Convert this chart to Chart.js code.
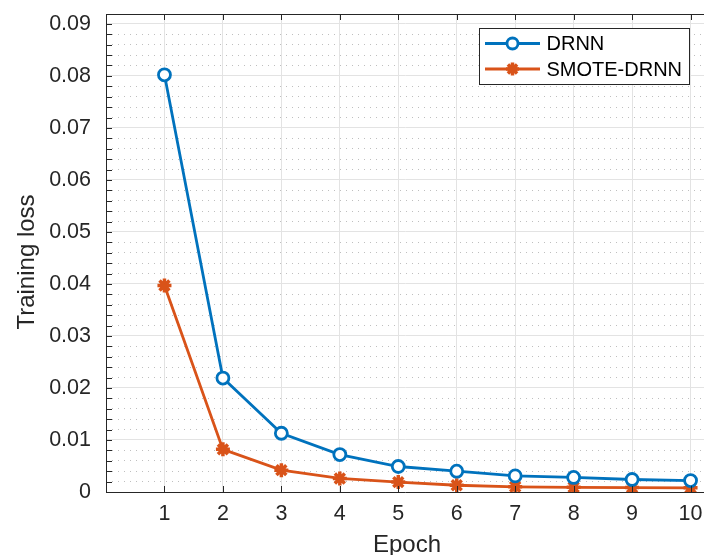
<!DOCTYPE html>
<html><head><meta charset="utf-8">
<script src="https://cdn.jsdelivr.net/npm/chart.js@4.4.1/dist/chart.umd.min.js"></script>
<style>html,body{margin:0;padding:0;background:#fff;overflow:hidden}canvas{display:block}</style>
</head><body>
<canvas id="c" width="704" height="555"></canvas>
<script>
// ---- data ----
const epochs = [1, 2, 3, 4, 5, 6, 7, 8, 9, 10];
const drnnLoss = [0.0802, 0.0219, 0.0113, 0.0072, 0.0049, 0.0040, 0.0031, 0.0028, 0.0024, 0.0022];
const smoteDrnnLoss = [0.0397, 0.0082, 0.0042, 0.0026, 0.0019, 0.0013, 0.0010, 0.0009, 0.00085, 0.0008];
const seriesNames = ['DRNN', 'SMOTE-DRNN'];
const yTickValues = [0, 0.01, 0.02, 0.03, 0.04, 0.05, 0.06, 0.07, 0.08, 0.09];
const yTickLabels = ['0', '0.01', '0.02', '0.03', '0.04', '0.05', '0.06', '0.07', '0.08', '0.09'];
const yMinorTickValues = [0.002, 0.004, 0.006, 0.008, 0.012, 0.014, 0.016, 0.018, 0.022, 0.024, 0.026, 0.028,
  0.032, 0.034, 0.036, 0.038, 0.042, 0.044, 0.046, 0.048, 0.052, 0.054, 0.056, 0.058,
  0.062, 0.064, 0.066, 0.068, 0.072, 0.074, 0.076, 0.078, 0.082, 0.084, 0.086, 0.088];
const xTickLabels = ['1', '2', '3', '4', '5', '6', '7', '8', '9', '10'];
const xTitle = 'Epoch';
const yTitle = 'Training loss';

// ---- style ----
const FONT = '"Liberation Sans", Arial, Helvetica, sans-serif';
const AXIS_COLOR = '#262626';
const BLUE = '#0072BD';
const ORANGE = '#D95319';
const Y_MIN = 0, Y_MAX = 0.0919, X_MIN = 0, X_MAX = 10.23;

const toPoints = (ys) => epochs.map((e, i) => ({ x: e, y: ys[i] }));
const noPad = (s) => { s.paddingTop = 0; s.paddingBottom = 0; s.paddingLeft = 0; s.paddingRight = 0; };

const axesDecor = {
  id: 'axesDecor',
  afterDraw(chart) {
    const ctx = chart.ctx;
    const ca = chart.chartArea;
    const xs = chart.scales.x, ys = chart.scales.y;
    ctx.save();
    ctx.strokeStyle = AXIS_COLOR;
    ctx.lineWidth = 1;
    // top box line
    ctx.beginPath();
    ctx.moveTo(ca.left, Math.round(ca.top) + 0.5);
    ctx.lineTo(ca.right, Math.round(ca.top) + 0.5);
    ctx.stroke();
    // inside ticks x (bottom and top)
    const L = 6;
    epochs.forEach(v => {
      const px = Math.round(xs.getPixelForValue(v)) + 0.5;
      ctx.beginPath();
      ctx.moveTo(px, ca.bottom); ctx.lineTo(px, ca.bottom - L);
      ctx.moveTo(px, ca.top); ctx.lineTo(px, ca.top + L);
      ctx.stroke();
    });
    // inside ticks y (left)
    yTickValues.concat(yMinorTickValues).forEach(v => {
      const py = Math.round(ys.getPixelForValue(v)) + 0.5;
      ctx.beginPath();
      ctx.moveTo(ca.left, py); ctx.lineTo(ca.left + L, py);
      ctx.stroke();
    });
    // axis titles
    ctx.fillStyle = AXIS_COLOR;
    ctx.font = '24px ' + FONT;
    ctx.textAlign = 'center';
    ctx.textBaseline = 'alphabetic';
    ctx.fillText(xTitle, 407, 552);
    ctx.translate(33.5, 262);
    ctx.rotate(-Math.PI / 2);
    ctx.fillText(yTitle, 0, 0);
    ctx.restore();

    // legend box
    ctx.save();
    const bx = 479.5, by = 28.5, bw = 210, bh = 56;
    ctx.fillStyle = '#ffffff';
    ctx.fillRect(bx, by, bw, bh);
    ctx.strokeStyle = AXIS_COLOR;
    ctx.lineWidth = 1;
    ctx.strokeRect(bx, by, bw, bh);
    const rows = [43.5, 69];
    chart.data.datasets.forEach((ds, i) => {
      const y = rows[i];
      ctx.strokeStyle = ds.borderColor;
      ctx.lineWidth = ds.borderWidth;
      ctx.beginPath();
      ctx.moveTo(bx + 5.5, y); ctx.lineTo(bx + 60.5, y);
      ctx.stroke();
      ctx.fillStyle = ds.pointBackgroundColor;
      ctx.strokeStyle = ds.pointBorderColor;
      ctx.lineWidth = ds.pointBorderWidth;
      Chart.helpers.drawPoint(ctx, {
        pointStyle: ds.pointStyle, radius: ds.pointRadius - 0.5, borderWidth: ds.pointBorderWidth, rotation: 0
      }, bx + 33, y);
      ctx.fillStyle = '#000000';
      ctx.font = '20px ' + FONT;
      ctx.textAlign = 'left';
      ctx.textBaseline = 'middle';
      ctx.fillText(ds.label, bx + 67, y + 1);
    });
    ctx.restore();
  }
};

new Chart(document.getElementById('c'), {
  type: 'line',
  data: {
    datasets: [
      {
        label: seriesNames[0], data: toPoints(drnnLoss),
        borderColor: BLUE, backgroundColor: BLUE, borderWidth: 2.8,
        pointStyle: 'circle', pointRadius: 6, pointBorderWidth: 2.8,
        pointBackgroundColor: '#ffffff', pointBorderColor: BLUE, tension: 0, fill: false
      },
      {
        label: seriesNames[1], data: toPoints(smoteDrnnLoss),
        borderColor: ORANGE, backgroundColor: ORANGE, borderWidth: 2.8,
        pointStyle: 'star', pointRadius: 7, pointBorderWidth: 3.5,
        pointBackgroundColor: ORANGE, pointBorderColor: ORANGE, tension: 0, fill: false
      }
    ]
  },
  options: {
    responsive: false,
    animation: false,
    devicePixelRatio: 1,
    layout: { autoPadding: false, padding: { top: 14, right: 0, bottom: 0, left: 0 } },
    plugins: { legend: { display: false }, tooltip: { enabled: false } },
    scales: {
      x: {
        type: 'linear', position: 'bottom', min: X_MIN, max: X_MAX,
        afterBuildTicks: (s) => { s.ticks = epochs.map(v => ({ value: v })); },
        afterFit: (s) => { s.height = 63; noPad(s); },
        ticks: {
          font: { family: FONT, size: 21.5 }, color: AXIS_COLOR, padding: 9,
          callback: (v) => xTickLabels[epochs.indexOf(v)] ?? ''
        },
        grid: { color: '#e3e3e3', lineWidth: 1, drawTicks: false },
        border: { display: true, color: AXIS_COLOR, width: 1 }
      },
      yMinor: {
        type: 'linear', position: 'left', min: Y_MIN, max: Y_MAX,
        afterBuildTicks: (s) => { s.ticks = yMinorTickValues.map(v => ({ value: v })); },
        afterFit: (s) => { s.width = 0; noPad(s); },
        ticks: { display: false },
        grid: { color: 'rgba(0,0,0,0.25)', lineWidth: 1, drawTicks: false },
        border: { display: false, dash: [1, 5] }
      },
      y: {
        type: 'linear', position: 'left', min: Y_MIN, max: Y_MAX,
        afterBuildTicks: (s) => { s.ticks = yTickValues.map(v => ({ value: v })); },
        afterFit: (s) => { s.width = 106; noPad(s); },
        ticks: {
          font: { family: FONT, size: 21.5 }, color: AXIS_COLOR, padding: 15,
          callback: (v) => { const i = yTickValues.findIndex(t => Math.abs(t - v) < 1e-9); return i >= 0 ? yTickLabels[i] : ''; }
        },
        grid: { color: '#e3e3e3', lineWidth: 1, drawTicks: false },
        border: { display: true, color: AXIS_COLOR, width: 1 }
      }
    }
  },
  plugins: [axesDecor]
});
</script>
</body></html>
